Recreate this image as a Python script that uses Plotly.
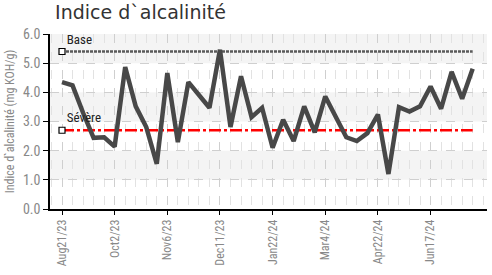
import plotly.graph_objects as go

# Data
values = [4.35, 4.24, 3.30, 2.44, 2.46, 2.14, 4.87, 3.52, 2.81, 1.55,
          4.66, 2.29, 4.35, 3.93, 3.47, 5.46, 2.81, 4.55, 3.15, 3.47,
          2.10, 3.06, 2.33, 3.52, 2.63, 3.86, 3.15, 2.46, 2.33, 2.60,
          3.24, 1.20, 3.49, 3.34, 3.52, 4.20, 3.44, 4.70, 3.78, 4.81]
x_index = list(range(len(values)))
tick_positions = [0, 5, 10, 15, 20, 25, 30, 35]
tick_labels = ["Aug21/23", "Oct2/23", "Nov6/23", "Dec11/23", "Jan22/24", "Mar4/24", "Apr22/24", "Jun17/24"]
base_level = 5.4
severe_level = 2.7
ref_names = ["Base", "Sévère"]

narrow = "Roboto Condensed, Liberation Sans Narrow, Roboto, sans-serif"

fig = go.Figure()

# Alternating background bands
for lo in [1, 3, 5]:
    fig.add_hrect(y0=lo, y1=lo + 1, fillcolor="#f4f4f4", line_width=0, layer="below")

n = len(values)
fig.add_trace(go.Scatter(x=[0, n - 1], y=[base_level, base_level], mode="lines",
                         line=dict(color="#5a5a5a", width=2.5, dash="3px,1px"),
                         hoverinfo="skip", showlegend=False))
fig.add_trace(go.Scatter(x=[0, n - 1], y=[severe_level, severe_level], mode="lines",
                         line=dict(color="#ff0000", width=2.5, dash="12px,3px,3px,3px"),
                         hoverinfo="skip", showlegend=False))
fig.add_trace(go.Scatter(x=x_index, y=values, mode="lines",
                         line=dict(color="#484848", width=4.5),
                         showlegend=False))
fig.add_trace(go.Scatter(x=[0, 0], y=[base_level, severe_level], mode="markers+text",
                         marker=dict(symbol="square", size=6, color="white",
                                     line=dict(color="black", width=1.2)),
                         text=ref_names, textposition="top right",
                         textfont=dict(family=narrow, size=13, color="#222"),
                         showlegend=False))

fig.update_layout(
    width=492, height=275,
    margin=dict(l=50, r=5, t=34, b=66),
    paper_bgcolor="white", plot_bgcolor="white",
    title=dict(text="Indice d`alcalinité", x=0.112, xanchor="left", y=0.956, yanchor="middle",
               font=dict(family="DejaVu Sans", size=19, color="#333")),
    xaxis=dict(range=[-1.14, 40.36], tickmode="array", tickvals=tick_positions,
               ticktext=tick_labels, tickangle=-90, showgrid=True, gridcolor="#cfcfcf",
               griddash="dash", gridwidth=1, showline=True, linecolor="black", linewidth=1.5,
               ticks="outside", ticklen=4, tickcolor="black", zeroline=False, automargin=False,
               tickfont=dict(family=narrow, size=12, color="#888"),
               minor=dict(tickmode="linear", tick0=0, dtick=1, showgrid=True,
                          gridcolor="#e2e2e2", griddash="dash", ticks="")),
    yaxis=dict(range=[0, 6], dtick=1, tickformat=".1f", showgrid=True, gridcolor="#cfcfcf",
               griddash="dash", showline=True, linecolor="black", linewidth=1.5,
               ticks="outside", ticklen=5, tickcolor="black", zeroline=False, automargin=False,
               tickfont=dict(family=narrow, size=14, color="#888"),
               title=dict(text="Indice d`alcalinité (mg KOH/g)", standoff=6,
                          font=dict(family=narrow, size=12, color="#888"))),
)

# Remove the default page margin so the figure sits at the window's top-left corner
fig.write_html("out.html", config={"displayModeBar": False},
               post_script="document.body.style.margin='0';document.body.style.overflow='hidden';")
